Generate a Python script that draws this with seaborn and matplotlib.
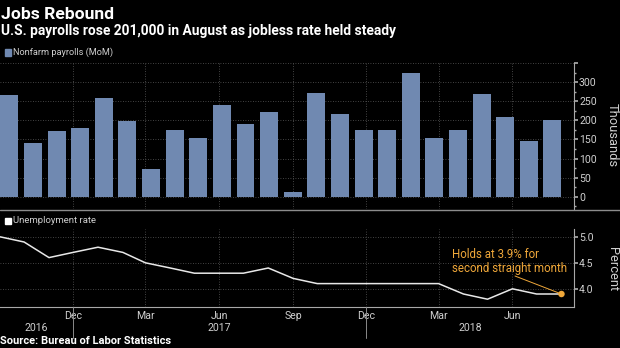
import numpy as np
import pandas as pd
import matplotlib
matplotlib.use("Agg")
import matplotlib.pyplot as plt
import matplotlib.dates as mdates
from matplotlib.patches import Rectangle
from matplotlib.lines import Line2D
import matplotlib.transforms as mtransforms
import seaborn as sns

# ---- data -------------------------------------------------------------
months = pd.date_range("2016-09-01", "2018-08-01", freq="MS")
payrolls = [265, 140, 171, 179, 259, 199, 73, 175, 154, 239, 191, 221,
            12, 271, 216, 176, 176, 324, 155, 176, 268, 208, 147, 201]
jobless_rate = [5.0, 4.9, 4.6, 4.7, 4.8, 4.7, 4.5, 4.4, 4.3, 4.3, 4.3, 4.4,
                4.2, 4.1, 4.1, 4.1, 4.1, 4.1, 4.1, 3.9, 3.8, 4.0, 3.9, 3.9]
quarter_months = pd.date_range("2016-12-01", "2018-06-01", freq="3MS")
quarter_labels = [d.strftime("%b") for d in quarter_months]
year_labels = ["2016", "2017", "2018"]
payroll_ticks = [0, 50, 100, 150, 200, 250, 300, 350]
rate_ticks = [4.0, 4.5, 5.0]

# ---- style ------------------------------------------------------------
sns.set_theme(style="dark")
plt.rcParams["font.family"] = ["Roboto", "DejaVu Sans"]
BG = "#000000"
BAR = "#7089B1"
LINE = "#E8E8E8"
ORANGE = "#F0A83A"
TXT = "#CFCFCF"
GRID = "#5A5A5A"
SPINE = "#A8A8A8"

W, H = 620, 348
fig = plt.figure(figsize=(W / 100, H / 100), dpi=100, facecolor=BG)


def fx(px):
    return px / W


def fy(py):
    return 1 - py / H


ax1 = fig.add_axes([0, fy(209), fx(573.5), fy(63) - fy(209)])
ax2 = fig.add_axes([0, fy(307), fx(573.5), fy(229) - fy(307)])

x_month = mdates.date2num(months)
x_left = mdates.date2num(pd.Timestamp("2016-09-01"))
x_right = mdates.date2num(pd.Timestamp("2018-08-16"))
# bars evenly spread across the monthly span
bar_x = np.linspace(x_month[0] + 11.7, x_month[-1] - 11.2, len(payrolls))

# ---- upper panel: payrolls -------------------------------------------
sns.barplot(x=bar_x, y=payrolls, native_scale=True, width=0.76,
            color=BAR, saturation=1, linewidth=0, edgecolor="none",
            ax=ax1, zorder=3)
ax1.set_xlim(x_left, x_right)
ax1.set_ylim(-32, 350)

# ---- lower panel: jobless rate ---------------------------------------
sns.lineplot(x=x_month, y=jobless_rate, color=LINE, lw=1.1, ax=ax2, zorder=3)
sns.scatterplot(x=[x_month[-1]], y=[jobless_rate[-1]], color=ORANGE, s=22,
                edgecolor="none", ax=ax2, zorder=5)
ax2.set_xlim(x_left, x_right)
ax2.set_ylim(3.65, 5.15)

for ax in (ax1, ax2):
    ax.set_facecolor(BG)
    ax.set_xlabel("")
    ax.set_ylabel("")
    for s in ("left", "top"):
        ax.spines[s].set_visible(False)
    ax.spines["right"].set_color(SPINE)
    ax.spines["right"].set_linewidth(0.8)
    ax.xaxis.set_major_locator(matplotlib.ticker.FixedLocator(mdates.date2num(quarter_months)))
    ax.xaxis.set_minor_locator(matplotlib.ticker.FixedLocator(x_month))
    ax.yaxis.tick_right()
    ax.grid(True, which="major", axis="both", color=GRID, lw=0.6,
            linestyle=(0, (1, 2)), zorder=0)
    ax.tick_params(axis="y", which="both", direction="out", length=3,
                   color=SPINE, labelcolor=TXT, labelsize=7.6, pad=1,
                   right=True, left=False, labelright=True, labelleft=False)

ax1.spines["bottom"].set_visible(False)
ax1.tick_params(axis="x", which="both", length=0, labelbottom=False)
ax1.set_yticks(payroll_ticks)
ax1.set_yticklabels([str(v) if v < 350 else "" for v in payroll_ticks])
ax1.yaxis.set_minor_locator(matplotlib.ticker.MultipleLocator(25))
ax1.tick_params(axis="y", which="minor", length=1.5)

ax2.spines["bottom"].set_color(SPINE)
ax2.spines["bottom"].set_linewidth(0.8)
ax2.set_xticklabels(quarter_labels)
ax2.tick_params(axis="x", which="both", direction="in", length=2,
                color=SPINE, labelcolor=TXT, labelsize=7.6, pad=3)
ax2.set_yticks(rate_ticks)
ax2.set_yticklabels([f"{v:.1f}" for v in rate_ticks])

# year labels and year separators under the time axis
trans = mtransforms.blended_transform_factory(ax2.transData, fig.transFigure)
sep_x = [mdates.date2num(pd.Timestamp("2016-12-01")),
         mdates.date2num(pd.Timestamp("2017-12-01"))]
bounds = [x_left] + sep_x + [x_right]
for i, lab in enumerate(year_labels):
    ax2.text((bounds[i] + bounds[i + 1]) / 2, fy(330.7), lab, transform=trans,
             ha="center", va="baseline", color=TXT, fontsize=7.6)
for xs in sep_x:
    fig.add_artist(Line2D([xs, xs], [fy(307), fy(338)], transform=trans,
                          color="#8A8A8A", lw=0.7))

# panel separator
fig.add_artist(Line2D([0, 1], [fy(209.5), fy(209.5)], transform=fig.transFigure,
                      color="#8C8C8C", lw=1.0))

# ---- annotation -------------------------------------------------------
ax2.annotate("", xy=(x_month[-1], jobless_rate[-1]), xytext=(515, H - 276),
             textcoords="figure pixels",
             arrowprops=dict(arrowstyle="-", color=ORANGE, lw=0.7,
                             shrinkA=0, shrinkB=2))
fig.text(fx(452.5), fy(261.5), "Holds at 3.9% for\nsecond straight month",
         color=ORANGE, fontsize=8.3, ha="left", va="center", linespacing=1.1)

# ---- titles, legends, axis titles ------------------------------------
fig.text(fx(1), fy(19), "Jobs Rebound", color="white", fontsize=12.6,
         fontweight="bold", ha="left", va="baseline")
fig.text(fx(1), fy(35), "U.S. payrolls rose 201,000 in August as jobless rate held steady",
         color="white", fontsize=9.9, fontweight="bold", ha="left", va="baseline")
fig.text(fx(0), fy(344.3), "Source: Bureau of Labor Statistics", color="white",
         fontsize=8, fontweight="bold", ha="left", va="baseline")

fig.add_artist(Rectangle((fx(5), fy(55.5)), fx(6), fy(49.5) - fy(55.5),
                         transform=fig.transFigure, color=BAR))
fig.text(fx(13), fy(52.5), "Nonfarm payrolls (MoM)", color=TXT, fontsize=6.6,
         ha="left", va="center")
fig.add_artist(Rectangle((fx(5), fy(223.5)), fx(6), fy(217.5) - fy(223.5),
                         transform=fig.transFigure, color="white"))
fig.text(fx(13), fy(220.5), "Unemployment rate", color=TXT, fontsize=6.8,
         ha="left", va="center")

fig.text(fx(612), fy(135), "Thousands", rotation=270, color=TXT, fontsize=9.3,
         ha="center", va="center")
fig.text(fx(612), fy(269), "Percent", rotation=270, color=TXT, fontsize=9.3,
         ha="center", va="center")

fig.savefig("out.png", dpi=100, facecolor=BG)
